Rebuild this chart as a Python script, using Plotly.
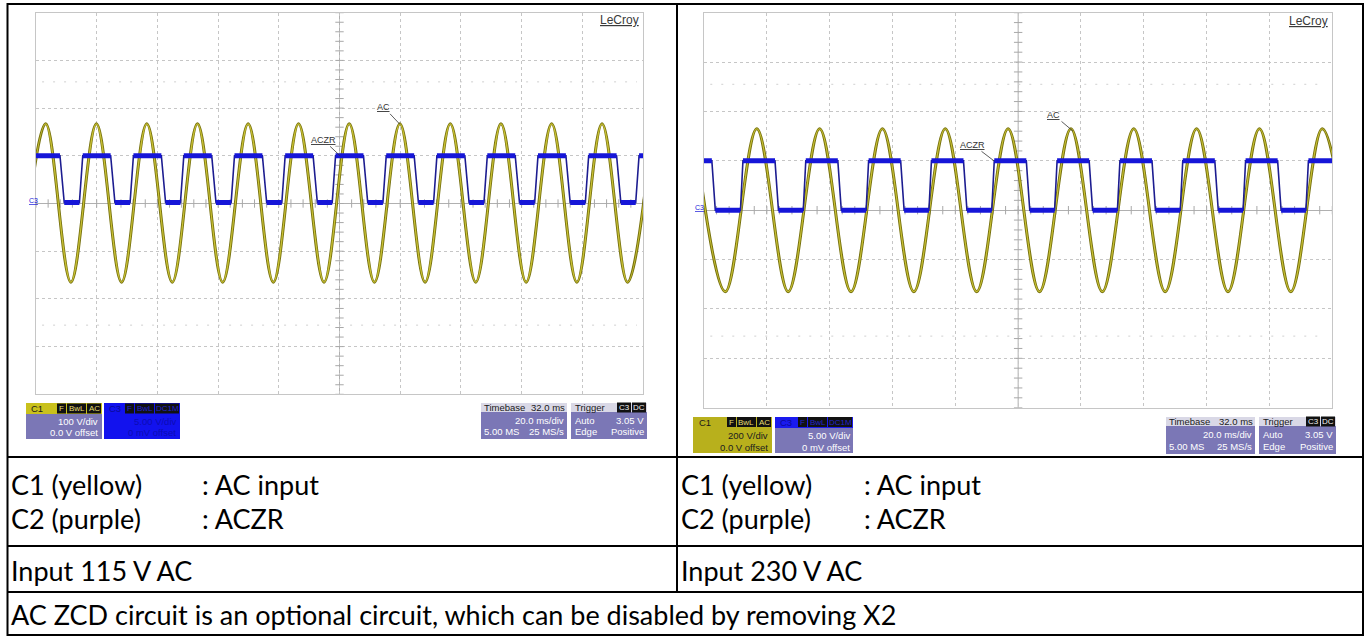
import numpy as np
import plotly.graph_objects as go

W, H = 1370, 637

# ---- data (time in ms, 0..200 = 10 div) ----
# 115 V AC capture (C1: 100 V/div, C3: 5 V/div)
left_ac_t = [-5.1, 3.2, 11.5, 19.9, 28.2, 36.5, 44.9, 53.2, 61.5, 69.9, 78.2, 86.5, 94.9,
             103.2, 111.5, 119.9, 128.2, 136.5, 144.9, 153.2, 161.5, 169.9, 178.2, 186.5,
             194.9, 203.2]
left_ac_v = [-165, 167, -165, 167, -165, 167, -165, 167, -165, 167, -165, 167, -165,
             167, -165, 167, -165, 167, -165, 167, -165, 167, -165, 167, -165, 167]
left_c3_fall = [7.9, 24.6, 41.3, 57.9, 74.6, 91.3, 107.9, 124.6, 141.3, 157.9, 174.6, 191.3]
left_c3_rise = [14.3, 31.0, 47.6, 64.3, 81.0, 97.6, 114.3, 131.0, 147.6, 164.3, 181.0, 197.6]
left_c3_hi, left_c3_lo = 5.0, 0.1
left_edge = (1.4, 1.1)   # fall / rise time, ms

# 230 V AC capture (C1: 200 V/div, C3: 5 V/div)
right_ac_t = [-3.2, 6.8, 16.8, 26.8, 36.8, 46.8, 56.8, 66.8, 76.8, 86.8, 96.8, 106.8,
              116.8, 126.8, 136.8, 146.8, 156.8, 166.8, 176.8, 186.8, 196.8, 206.8]
right_ac_v = [330, -330, 330, -330, 330, -330, 330, -330, 330, -330, 330, -330,
              330, -330, 330, -330, 330, -330, 330, -330, 330, -330]
right_c3_fall = [2.5, 22.6, 42.6, 62.6, 82.6, 102.6, 122.6, 142.6, 162.6, 182.6]
right_c3_rise = [11.6, 31.6, 51.6, 71.6, 91.6, 111.6, 131.6, 151.6, 171.6, 191.6]
right_c3_hi, right_c3_lo = 5.0, 0.0
right_edge = (1.1, 0.8)

trig_ms = 132.0
trig_level = 3.05

YEL_DARK = '#77720f'
YEL = '#c8c034'
BLUE = '#1616d8'
NAVY = '#1c1c90'
PURPLE = '#7b77b6'
GRID = '#c6c6c6'


def px(x):
    return x / W


def py(y):
    return 1 - y / H


def square(falls, rises, hi, lo, edge, t_end=200):
    # build the ACZR trace from the read edge times
    ev = sorted([(f, 'f') for f in falls] + [(r, 'r') for r in rises])
    state = hi if ev[0][1] == 'f' else lo
    xs, ys = [0], [state]
    plat_x, plat_y = [0], [state]
    for t, k in ev:
        new = lo if k == 'f' else hi
        d = edge[0] if k == 'f' else edge[1]
        xs += [t, t + d]
        ys += [state, new]
        plat_x += [t, None, t + d]
        plat_y += [state, None, new]
        state = new
    xs.append(t_end)
    ys.append(state)
    plat_x.append(t_end)
    plat_y.append(state)
    return xs, ys, plat_x, plat_y


fig = go.Figure()

scopes = [
    dict(xa='x', ya='y', ya3='y3', t=left_ac_t, v=left_ac_v, falls=left_c3_fall, rises=left_c3_rise,
         hi=left_c3_hi, lo=left_c3_lo, edge=left_edge, vdiv=100),
    dict(xa='x2', ya='y2', ya3='y4', t=right_ac_t, v=right_ac_v, falls=right_c3_fall, rises=right_c3_rise,
         hi=right_c3_hi, lo=right_c3_lo, edge=right_edge, vdiv=200),
]

for s in scopes:
    vd = s['vdiv']
    # reticle ticks on the centre lines
    yt = np.arange(-4 * vd, 4 * vd + 1, vd / 5)
    xt = np.arange(0, 201, 4)
    fig.add_trace(go.Scatter(x=[100] * len(yt), y=yt, mode='markers', xaxis=s['xa'], yaxis=s['ya'],
                             marker=dict(symbol='line-ew', size=6, line=dict(width=1, color='#a8a8a8')),
                             hoverinfo='skip'))
    fig.add_trace(go.Scatter(x=xt, y=[0] * len(xt), mode='markers', xaxis=s['xa'], yaxis=s['ya'],
                             marker=dict(symbol='line-ns', size=6, line=dict(width=1, color='#a8a8a8')),
                             hoverinfo='skip'))
    # C1 AC input
    fig.add_trace(go.Scatter(x=s['t'], y=s['v'], mode='lines', xaxis=s['xa'], yaxis=s['ya'],
                             line=dict(color=YEL_DARK, width=3.0, shape='spline', smoothing=1),
                             hoverinfo='skip'))
    fig.add_trace(go.Scatter(x=s['t'], y=s['v'], mode='lines', xaxis=s['xa'], yaxis=s['ya'],
                             line=dict(color=YEL, width=1.2, shape='spline', smoothing=1),
                             hoverinfo='skip'))
    # trigger position marker
    fig.add_trace(go.Scatter(x=[trig_ms], y=[-4.1 * vd], mode='markers', xaxis=s['xa'], yaxis=s['ya'],
                             marker=dict(symbol='triangle-up', size=7, color=BLUE), cliponaxis=False,
                             hoverinfo='skip'))
    # C3 ACZR
    xs, ys, pxs, pys = square(s['falls'], s['rises'], s['hi'], s['lo'], s['edge'])
    fig.add_trace(go.Scatter(x=xs, y=ys, mode='lines', xaxis=s['xa'], yaxis=s['ya3'],
                             line=dict(color=NAVY, width=1.6), hoverinfo='skip'))
    fig.add_trace(go.Scatter(x=pxs, y=pys, mode='lines', xaxis=s['xa'], yaxis=s['ya3'],
                             line=dict(color=BLUE, width=5), hoverinfo='skip'))
    # trigger level marker
    fig.add_trace(go.Scatter(x=[202], y=[trig_level], mode='markers', xaxis=s['xa'], yaxis=s['ya3'],
                             marker=dict(symbol='triangle-left', size=7, color=BLUE), cliponaxis=False,
                             hoverinfo='skip'))

axis_common = dict(showgrid=True, gridcolor=GRID, griddash='dot', gridwidth=1, showticklabels=False,
                   ticks='', showline=True, mirror=True, linecolor=GRID, linewidth=1, fixedrange=True)

fig.update_layout(
    width=W, height=H, margin=dict(l=0, r=0, t=0, b=0),
    paper_bgcolor='white', plot_bgcolor='white', showlegend=False,
    xaxis=dict(domain=[px(36), px(643)], range=[0, 200], dtick=20, tick0=0, zeroline=False,
               anchor='y', **axis_common),
    yaxis=dict(domain=[py(394.3), py(12.7)], range=[-400, 400], dtick=100, tick0=0, zeroline=True,
               zerolinecolor='#b0b0b0', zerolinewidth=1, anchor='x', **axis_common),
    yaxis3=dict(overlaying='y', range=[-20, 20], visible=False, anchor='x'),
    xaxis2=dict(domain=[px(704), px(1332.3)], range=[0, 200], dtick=20, tick0=0, zeroline=False,
                anchor='y2', **axis_common),
    yaxis2=dict(domain=[py(407.7), py(12.7)], range=[-800, 800], dtick=200, tick0=0, zeroline=True,
                zerolinecolor='#b0b0b0', zerolinewidth=1, anchor='x2', **axis_common),
    yaxis4=dict(overlaying='y2', range=[-20, 20], visible=False, anchor='x2'),
)

shapes = []
ann = []

# centre vertical line and the faint dotted rows
for xa, ya, vd in [('x', 'y', 100), ('x2', 'y2', 200)]:
    shapes.append(dict(type='line', xref=xa, yref=ya, x0=100, x1=100, y0=-4 * vd, y1=4 * vd,
                       line=dict(color='#b0b0b0', width=1), layer='below'))
    for yy in (2.55 * vd, -2.55 * vd):
        shapes.append(dict(type='line', xref=xa, yref=ya, x0=2, x1=198, y0=yy, y1=yy,
                           line=dict(color='#d0d0d0', width=1, dash='2px,9px'), layer='below'))

SF = 'Liberation Sans, Arial, sans-serif'


def txt(x, y, s, size=9.5, color='white', anchor='left', **kw):
    ann.append(dict(x=px(x), y=py(y), xref='paper', yref='paper', text=s, showarrow=False,
                    xanchor=anchor, yanchor='middle', font=dict(family=SF, size=size, color=color), **kw))


def rect(x0, y0, x1, y1, color):
    shapes.append(dict(type='rect', xref='paper', yref='paper', x0=px(x0), x1=px(x1), y0=py(y1), y1=py(y0),
                       fillcolor=color, line=dict(width=0)))


def badges(x_right, y, labels, fg):
    # black tag boxes, laid out from the right
    x = x_right
    for lab in reversed(labels):
        w = 4 + 5.0 * len(lab)
        rect(x - w, y - 5, x, y + 5, '#111111')
        txt(x - w / 2, y, lab, size=8, color=fg, anchor='center')
        x -= w + 1


# left scope info boxes
rect(26, 403, 102, 439, PURPLE)
rect(26, 403, 102, 414, '#c9c11c')
txt(29, 408.5, 'C1', color='#1a1a1a')
badges(101, 408.5, ['F', 'BwL', 'AC'], '#e6de70')
txt(100, 421, '100 V/div', anchor='right')
txt(100, 432, '0.0 V offset', anchor='right')

rect(104, 403, 180, 439, '#1212ee')
txt(107, 408.5, 'C3', color='#0a0a99')
badges(179, 408.5, ['F', 'BwL', 'DC1M'], '#2424c8')
txt(178, 421, '5.00 V/div', color='#0c0cb4', anchor='right')
txt(178, 432, '0 mV offset', color='#0c0cb4', anchor='right')

rect(481, 403, 567, 439, PURPLE)
rect(481, 403, 567, 412, '#d9d8e6')
txt(482, 407.5, 'Timebase', color='#1a1a1a')
txt(567, 407.5, '32.0 ms', color='#1a1a1a', anchor='right')
txt(566, 420, '20.0 ms/div', anchor='right')
txt(482, 431, '5.00 MS')
txt(566, 431, '25 MS/s', anchor='right')

rect(571, 403, 647, 439, PURPLE)
rect(571, 403, 647, 412, '#d9d8e6')
txt(573, 407.5, 'Trigger', color='#1a1a1a')
badges(646, 407.5, ['C3', 'DC'], '#f0f0f0')
txt(573, 420, 'Auto')
txt(646, 420, '3.05 V', anchor='right')
txt(573, 431, 'Edge')
txt(646, 431, 'Positive', anchor='right')

# right scope info boxes
rect(693, 417, 772, 453, '#b8b01c')
txt(697, 422, 'C1', color='#1a1a1a')
badges(771, 422, ['F', 'BwL', 'AC'], '#e6de70')
txt(770, 435, '200 V/div', color='#202020', anchor='right')
txt(770, 447, '0.0 V offset', color='#202020', anchor='right')

rect(775, 417, 853, 453, PURPLE)
rect(775, 417, 853, 428, '#1a1aee')
txt(778, 422, 'C3', color='#0a0a99')
badges(852, 422, ['F', 'BwL', 'DC1M'], '#2424c8')
txt(852, 435, '5.00 V/div', anchor='right')
txt(852, 447, '0 mV offset', anchor='right')

rect(1166, 417, 1255, 454, PURPLE)
rect(1166, 417, 1255, 426, '#d9d8e6')
txt(1167, 421.5, 'Timebase', color='#1a1a1a')
txt(1255, 421.5, '32.0 ms', color='#1a1a1a', anchor='right')
txt(1254, 434, '20.0 ms/div', anchor='right')
txt(1167, 446, '5.00 MS')
txt(1254, 446, '25 MS/s', anchor='right')

rect(1259, 417, 1336, 454, PURPLE)
rect(1259, 417, 1336, 426, '#d9d8e6')
txt(1261, 421.5, 'Trigger', color='#1a1a1a')
badges(1335, 421.5, ['C3', 'DC'], '#f0f0f0')
txt(1261, 434, 'Auto')
txt(1335, 434, '3.05 V', anchor='right')
txt(1261, 446, 'Edge')
txt(1335, 446, 'Positive', anchor='right')

# scope labels
txt(641, 20, '<u>LeCroy</u>', size=12, color='#3a3a3a', anchor='right')
txt(1330, 21, '<u>LeCroy</u>', size=12, color='#3a3a3a', anchor='right')
txt(27, 200, '<u>C3</u>', size=7, color=BLUE)
txt(693, 207, '<u>C3</u>', size=7, color=BLUE)

arrow = dict(showarrow=True, arrowhead=0, arrowwidth=0.8, arrowcolor='#333333', standoff=0,
             font=dict(family=SF, size=9, color='#333333'))
ann.append(dict(x=119.9, y=166, xref='x', yref='y', text='<u>AC</u>', ax=-16, ay=-17, **arrow))
ann.append(dict(x=100.2, y=5, xref='x', yref='y3', text='<u>ACZR</u>', ax=-17, ay=-16, **arrow))
ann.append(dict(x=117.4, y=321, xref='x2', yref='y2', text='<u>AC</u>', ax=-19, ay=-16, **arrow))
ann.append(dict(x=92.3, y=5, xref='x2', yref='y4', text='<u>ACZR</u>', ax=-21, ay=-16, **arrow))

# table frame
TL = dict(color='black', width=2)
shapes.append(dict(type='rect', xref='paper', yref='paper', x0=px(7.5), x1=px(1363), y0=py(635), y1=py(4),
                   line=TL))
shapes.append(dict(type='line', xref='paper', yref='paper', x0=px(677), x1=px(677), y0=py(592), y1=py(4),
                   line=TL))
for yy in (457, 546, 592):
    shapes.append(dict(type='line', xref='paper', yref='paper', x0=px(7.5), x1=px(1363), y0=py(yy), y1=py(yy),
                       line=TL))

TF = 'Source Sans Pro, Lato, sans-serif'


def cell(x, y, s):
    ann.append(dict(x=px(x), y=py(y), xref='paper', yref='paper', text=s, showarrow=False,
                    xanchor='left', yanchor='middle', font=dict(family=TF, size=27, color='black')))


cell(9, 484, 'C1 (yellow)')
cell(200, 484, ': AC input')
cell(9, 518, 'C2 (purple)')
cell(200, 518, ': ACZR')
cell(679, 484, 'C1 (yellow)')
cell(862, 484, ': AC input')
cell(679, 518, 'C2 (purple)')
cell(862, 518, ': ACZR')
cell(9, 570, 'Input 115 V AC')
cell(679, 570, 'Input 230 V AC')
cell(9, 614, 'AC ZCD circuit is an optional circuit, which can be disabled by removing X2')

fig.update_layout(shapes=shapes, annotations=ann)
# the page body has a default 8px margin; drop it so the figure sits at the window origin
fig.write_html('out.html', config={'displayModeBar': False},
               post_script="document.body.style.margin='0px';")
